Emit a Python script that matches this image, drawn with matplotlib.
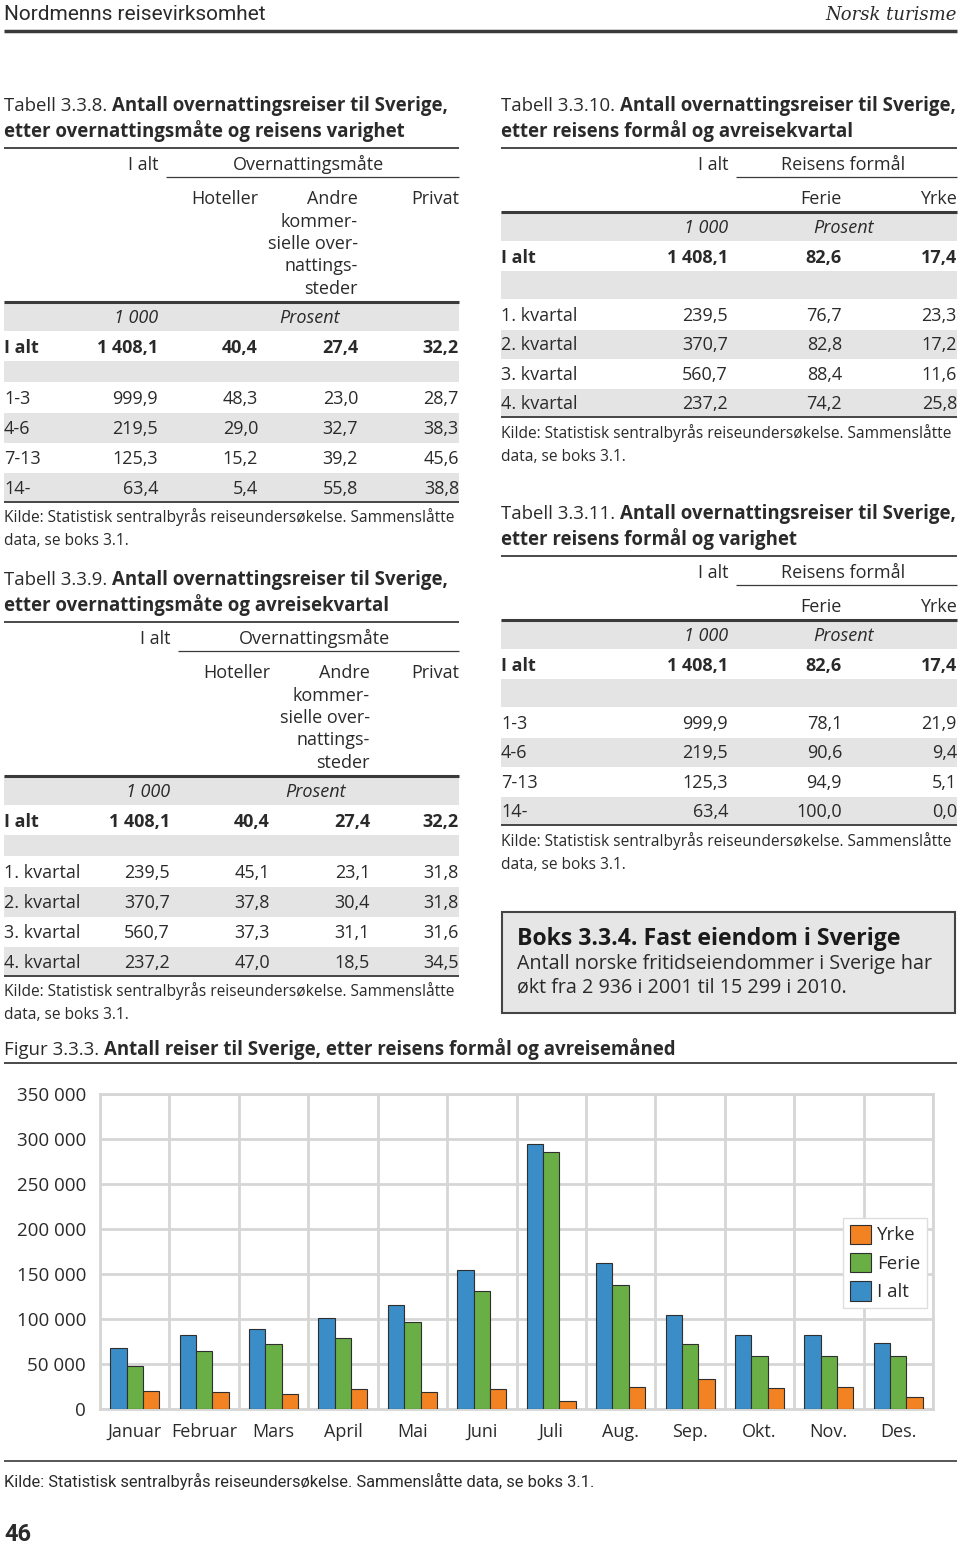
import numpy as np
import matplotlib
matplotlib.use('Agg')
import matplotlib.pyplot as plt
from matplotlib import font_manager
from matplotlib.patches import Rectangle, Patch

names = {f.name for f in font_manager.fontManager.ttflist}
FONT = 'Open Sans'
COND = 'Liberation Sans Narrow' if 'Liberation Sans Narrow' in names else 'Roboto'
plt.rcParams['font.family'] = [FONT, 'DejaVu Sans']

# --- figure data (Figur 3.3.3) ---
months = ['Januar', 'Februar', 'Mars', 'April', 'Mai', 'Juni', 'Juli',
          'Aug.', 'Sep.', 'Okt.', 'Nov.', 'Des.']
ialt = [68000, 82500, 89000, 101000, 115500, 154000, 294000, 162000, 105000, 82000, 82500, 73000]
ferie = [48000, 64000, 72000, 79000, 96500, 131500, 286000, 138000, 72000, 58500, 59000, 59000]
yrke = [20500, 18500, 17000, 22500, 19000, 22000, 8500, 24000, 33000, 23000, 24000, 13500]

# --- table data ---
varighet = ['1-3', '4-6', '7-13', '14-']
kvartal = ['1. kvartal', '2. kvartal', '3. kvartal', '4. kvartal']

t338_total = [1408.1, 40.4, 27.4, 32.2]
t338_ialt = [999.9, 219.5, 125.3, 63.4]
t338_hotell = [48.3, 29.0, 15.2, 5.4]
t338_andre = [23.0, 32.7, 39.2, 55.8]
t338_privat = [28.7, 38.3, 45.6, 38.8]

t339_total = [1408.1, 40.4, 27.4, 32.2]
t339_ialt = [239.5, 370.7, 560.7, 237.2]
t339_hotell = [45.1, 37.8, 37.3, 47.0]
t339_andre = [23.1, 30.4, 31.1, 18.5]
t339_privat = [31.8, 31.8, 31.6, 34.5]

t3310_total = [1408.1, 82.6, 17.4]
t3310_ialt = [239.5, 370.7, 560.7, 237.2]
t3310_ferie = [76.7, 82.8, 88.4, 74.2]
t3310_yrke = [23.3, 17.2, 11.6, 25.8]

t3311_total = [1408.1, 82.6, 17.4]
t3311_ialt = [999.9, 219.5, 125.3, 63.4]
t3311_ferie = [78.1, 90.6, 94.9, 100.0]
t3311_yrke = [21.9, 9.4, 5.1, 0.0]

KILDE = 'Kilde: Statistisk sentralbyrås reiseundersøkelse. Sammenslåtte'
TXT = '#2a2a2a'
BAND = '#e4e4e5'
LINE = '#3a3a3a'
FS = 13
FS_TITLE = 13.4
FS_KILDE = 11.2

fig = plt.figure(figsize=(9.6, 15.45), dpi=100)
bg = fig.add_axes([0, 0, 1, 1])
bg.set_xlim(0, 960)
bg.set_ylim(1545, 0)
bg.axis('off')


def txt(x, y, s, ha='left', size=FS, **kw):
    kw.setdefault('color', TXT)
    return bg.text(x, y + size * 0.48, s, ha=ha, va='baseline', fontsize=size, zorder=3, **kw)


def hline(x0, x1, y, lw):
    bg.plot([x0, x1], [y, y], color=LINE, lw=lw, solid_capstyle='butt', zorder=2)


def band(x0, x1, y0, y1):
    bg.add_patch(Rectangle((x0, y0), x1 - x0, y1 - y0, fc=BAND, ec='none', zorder=1))


def mixed(x, y, a, b, size=FS_TITLE, **kw):
    t = txt(x, y, a, size=size, **kw)
    bb = t.get_window_extent(renderer=fig.canvas.get_renderer())
    txt(bb.x1 + size * 0.35, y, b, size=size, weight='bold', **kw)


def fmt(v):
    s = f'{v:.1f}'
    ip, dp = s.split('.')
    if len(ip) > 3:
        ip = ip[:-3] + ' ' + ip[-3:]
    return ip + ',' + dp


def draw_table(x0, x1, y0, num, title, span, span_x, sub_x0, heads, colx,
               total, labels, cols, gap_h, row_h):
    mixed(x0, y0, f'Tabell {num}.', title[0])
    txt(x0, y0 + 26, title[1], weight='bold', size=FS_TITLE)
    hline(x0, x1, y0 + 43, 1.3)
    txt(colx[0], y0 + 59, 'I alt', ha='right')
    txt(span_x, y0 + 59, span, ha='center')
    hline(sub_x0, x1, y0 + 72, 0.9)
    nl = max(len(h[1]) for h in heads)
    for hx, lines in heads:
        for i, l in enumerate(lines):
            txt(hx, y0 + 93 + 22.4 * i, l, ha='right')
    T = y0 + 93 + 22.4 * (nl - 1) + 14
    band(x0, x1, T, T + 29)
    hline(x0, x1, T, 2.2)
    txt(colx[0], T + 15, '1 000', ha='right', style='italic')
    txt(span_x, T + 15, 'Prosent', ha='center', style='italic')
    txt(x0, T + 45, 'I alt', weight='bold')
    for cx, v in zip(colx, total):
        txt(cx, T + 45, fmt(v), ha='right', weight='bold')
    g1 = T + 59 + gap_h
    band(x0, x1, T + 59, g1)
    r0 = g1 + row_h / 2 + 1
    for i, lab in enumerate(labels):
        yc = r0 + row_h * i
        if i % 2:
            band(x0, x1, yc - row_h / 2, yc + row_h / 2)
        txt(x0, yc, lab)
        for cx, col in zip(colx, cols):
            txt(cx, yc, fmt(col[i]), ha='right')
    yb = r0 + row_h * (len(labels) - 1) + 14
    hline(x0, x1, yb, 1.3)
    txt(x0, yb + 15, KILDE, size=FS_KILDE)
    txt(x0, yb + 38, 'data, se boks 3.1.', size=FS_KILDE)


# page header
bg.text(4, 20, 'Nordmenns reisevirksomhet', family=COND, fontsize=15, color=TXT, va='baseline')
bg.text(957, 20, 'Norsk turisme', family='DejaVu Serif', style='italic', fontsize=13,
        color=TXT, va='baseline', ha='right')
hline(4, 957, 31, 2.5)

andre = ['Andre', 'kommer-', 'sielle over-', 'nattings-', 'steder']
draw_table(4, 459, 105, '3.3.8', ['Antall overnattingsreiser til Sverige,',
                                  'etter overnattingsmåte og reisens varighet'],
           'Overnattingsmåte', 309, 166,
           [(258, ['Hoteller']), (358, andre), (459, ['Privat'])],
           [158, 258, 358, 459], t338_total, varighet,
           [t338_ialt, t338_hotell, t338_andre, t338_privat], 21, 30)

draw_table(4, 459, 579, '3.3.9', ['Antall overnattingsreiser til Sverige,',
                                  'etter overnattingsmåte og avreisekvartal'],
           'Overnattingsmåte', 315, 178,
           [(270, ['Hoteller']), (370, andre), (459, ['Privat'])],
           [170, 270, 370, 459], t339_total, kvartal,
           [t339_ialt, t339_hotell, t339_andre, t339_privat], 21, 30)

draw_table(501, 957, 105, '3.3.10', ['Antall overnattingsreiser til Sverige,',
                                     'etter reisens formål og avreisekvartal'],
           'Reisens formål', 843, 736,
           [(842, ['Ferie']), (957, ['Yrke'])],
           [728, 842, 957], t3310_total, kvartal,
           [t3310_ialt, t3310_ferie, t3310_yrke], 28, 29.5)

draw_table(501, 957, 513, '3.3.11', ['Antall overnattingsreiser til Sverige,',
                                     'etter reisens formål og varighet'],
           'Reisens formål', 843, 736,
           [(842, ['Ferie']), (957, ['Yrke'])],
           [728, 842, 957], t3311_total, varighet,
           [t3311_ialt, t3311_ferie, t3311_yrke], 28, 29.5)

# box
bg.add_patch(Rectangle((502, 912), 453, 101, fc='#e6e6e6', ec='#444444', lw=1.5, zorder=1))
txt(517, 937, 'Boks 3.3.4. Fast eiendom i Sverige', size=16.6, weight='bold', color='#1a1a1a')
txt(517, 962, 'Antall norske fritidseiendommer i Sverige har', size=14.2)
txt(517, 986, 'økt fra 2 936 i 2001 til 15 299 i 2010.', size=14.2)

# figure title
mixed(4, 1049, 'Figur 3.3.3.', 'Antall reiser til Sverige, etter reisens formål og avreisemåned')
hline(4, 957, 1063, 1.3)

# chart
ax = fig.add_axes([100 / 960, 1 - 1409 / 1545, 833 / 960, 315 / 1545])
x = np.arange(len(months))
w = 0.235
blue, green, orange = '#3a8dc6', '#6aaf45', '#f28222'
ax.bar(x - w, ialt, w, color=blue, edgecolor='#2f2f2f', lw=0.8, zorder=3)
ax.bar(x, ferie, w, color=green, edgecolor='#2f2f2f', lw=0.8, zorder=3)
ax.bar(x + w, yrke, w, color=orange, edgecolor='#2f2f2f', lw=0.8, zorder=3)
ax.set_xlim(-0.5, 11.5)
ax.set_ylim(0, 350000)
ax.set_yticks(np.arange(0, 350001, 50000))
ax.set_yticklabels([f'{v:,}'.replace(',', ' ') for v in range(0, 350001, 50000)])
ax.set_xticks(x)
ax.set_xticklabels(months)
ax.set_xticks(np.arange(-0.5, 12, 1), minor=True)
ax.grid(True, axis='y', color='#d6d6d6', lw=2, zorder=0)
ax.grid(True, axis='x', which='minor', color='#d6d6d6', lw=2, zorder=0)
ax.tick_params(which='both', length=0)
ax.tick_params(axis='y', pad=10, labelsize=13.5, labelcolor=TXT)
ax.tick_params(axis='x', pad=10, labelsize=13, labelcolor=TXT)
for s in ax.spines.values():
    s.set_color('#d6d6d6')
    s.set_linewidth(2)
ax.set_axisbelow(True)
handles = [Patch(fc=orange, ec='#2f2f2f', lw=0.8), Patch(fc=green, ec='#2f2f2f', lw=0.8),
           Patch(fc=blue, ec='#2f2f2f', lw=0.8)]
leg = ax.legend(handles, ['Yrke', 'Ferie', 'I alt'], loc='upper left',
                bbox_to_anchor=(843 / 960, 1 - 1218 / 1545), bbox_transform=fig.transFigure,
                fancybox=False, edgecolor='#dddddd', framealpha=1, fontsize=13.5,
                handlelength=1.15, handleheight=1.2, labelspacing=0.45,
                handletextpad=0.3, borderpad=0.35, borderaxespad=0)
for t in leg.get_texts():
    t.set_color(TXT)

# footer
hline(4, 957, 1461, 1.2)
bg.text(4, 1487, 'Kilde: Statistisk sentralbyrås reiseundersøkelse. Sammenslåtte data, se boks 3.1.',
        family=COND, fontsize=11.8, color=TXT, va='baseline')
bg.text(4, 1541, '46', family=COND, weight='bold', fontsize=17, color=TXT, va='baseline')

fig.savefig('out.png', dpi=100)
